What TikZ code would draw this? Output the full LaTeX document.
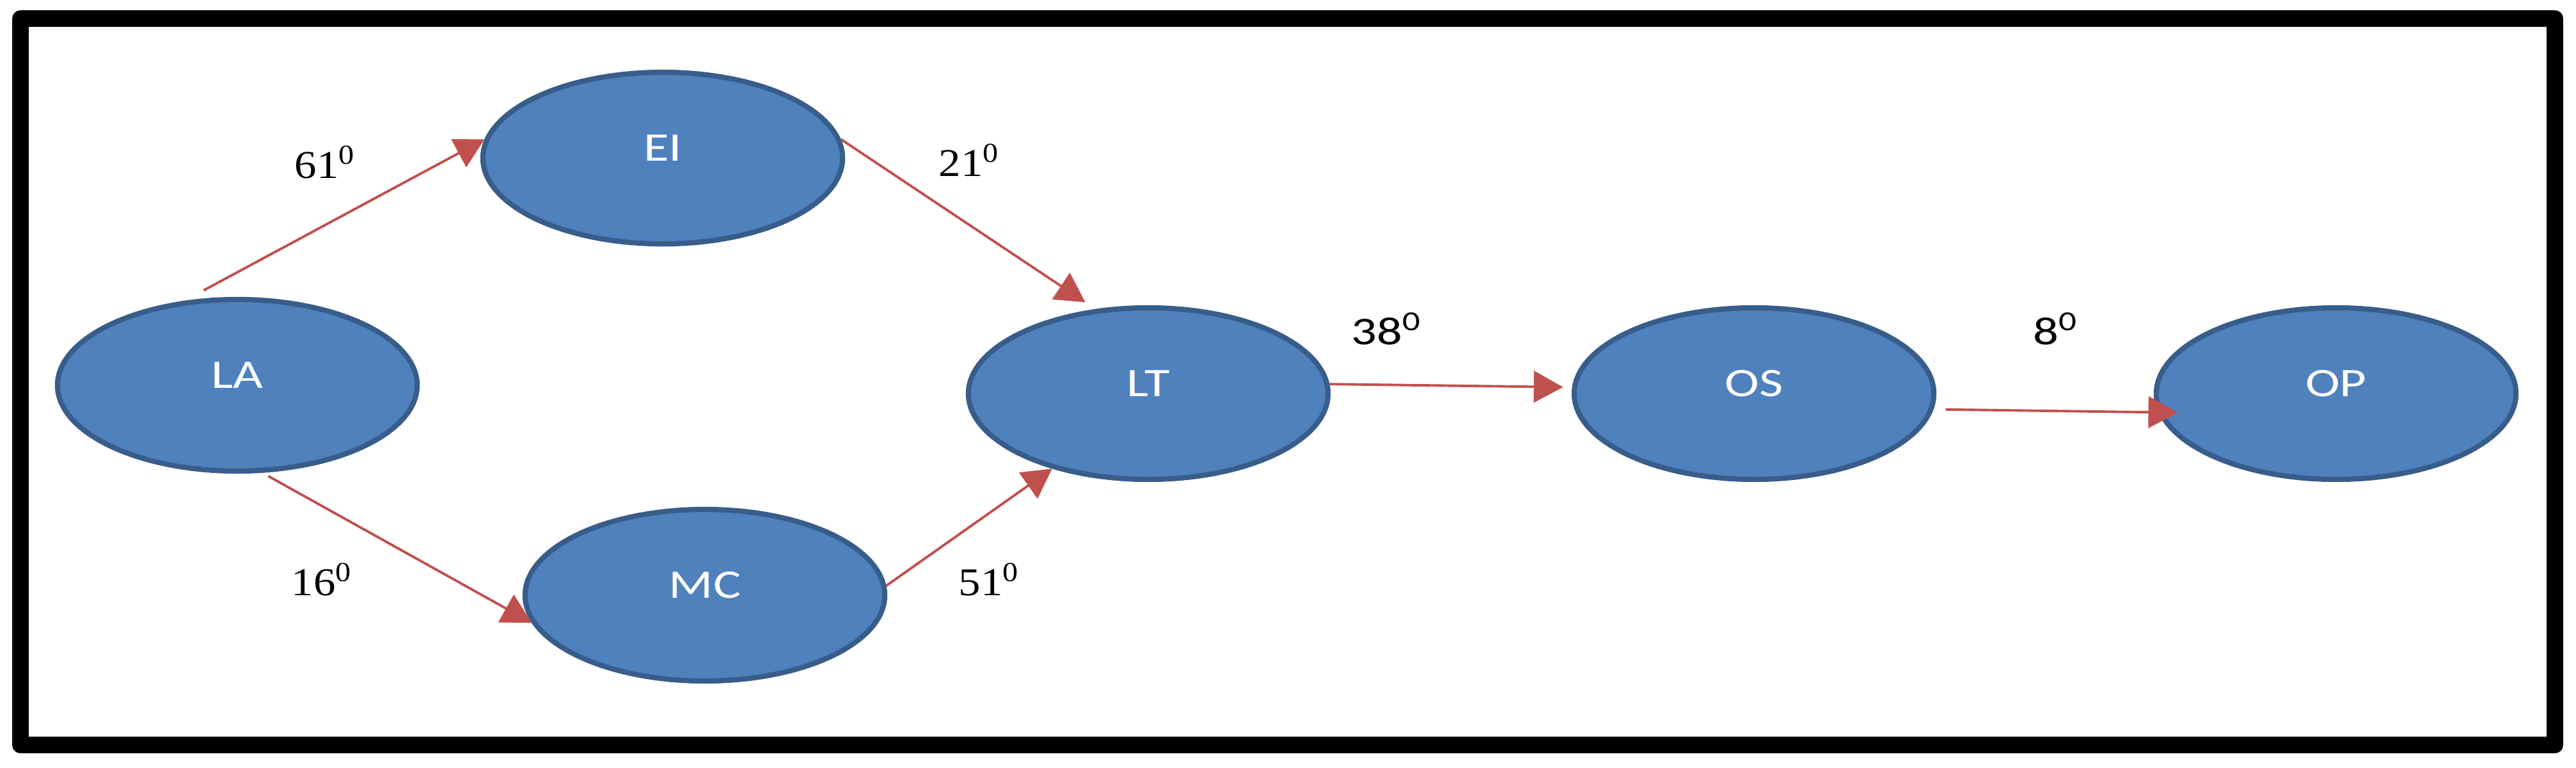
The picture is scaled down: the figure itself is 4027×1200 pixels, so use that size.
\documentclass[tikz,border=0pt]{standalone}
\usepackage{fontspec}
\setmainfont[FakeStretch=1.12]{Liberation Serif}
\newfontfamily\calibri[FakeStretch=1.28]{Carlito}
\usepackage{xcolor}
\usepackage{tikz}
\usetikzlibrary{arrows.meta,shapes.geometric}
\definecolor{nodeblue}{HTML}{4F81BD}
\definecolor{nodeedge}{HTML}{385D8A}
\definecolor{linkred}{HTML}{C0504D}

\begin{document}
\begin{tikzpicture}[x=0.01cm, y=0.01cm]
\tikzstyle{every node}+=[inner sep=0pt]
\tikzstyle{var}=[ellipse, draw=nodeedge, fill=nodeblue, line width=2.3pt, minimum width=5.62cm, minimum height=2.68cm, text=white, text depth=9pt, font=\calibri\fontsize{18}{20}\selectfont]
\tikzstyle{link}=[draw=linkred, line width=1.1pt, -{Triangle[length=13pt,width=14pt]}]
\tikzstyle{weight}=[font=\fontsize{17.5}{20}\selectfont]
\tikzstyle{sweight}=[font=\calibri\fontsize{17.5}{20}\selectfont]
\useasboundingbox (0,0) rectangle (4027,-1200);
\draw [black, line width=7.4pt, line join=round] (32,-29) rectangle (3994,-1164);
\node [var] (LA) at (371,-602) {LA};
\node [var] (EI) at (1036,-247) {EI};
\node [var] (MC) at (1102,-930) {MC};
\node [var] (LT) at (1795,-615) {LT};
\node [var] (OS) at (2742,-615) {OS};
\node [var] (OP) at (3652,-615) {OP};
\draw [link, shorten <=9.7pt] (LA.122) -- (EI.174);
\draw [link, shorten <=3pt] (LA.-74) -- (MC.189);
\draw [link, shorten >=5.4pt] (EI.6) -- (LT.122);
\draw [link] (MC.3) -- (LT.218);
\draw [link, shorten >=4pt] (LT.3) -- (OS.178);
\draw [link, shorten <=5.4pt, shorten >=-8.8pt] (OS.-5) -- (OP.186);
\node [weight] (w61) at (508,-253) {61\textsuperscript{0}};
\node [weight] (w16) at (503,-905) {16\textsuperscript{0}};
\node [weight] (w21) at (1515,-250) {21\textsuperscript{0}};
\node [weight] (w51) at (1546,-905) {51\textsuperscript{0}};
\node [sweight] (w38) at (2167,-514) {38\textsuperscript{0}};
\node [sweight] (w8) at (3213,-514) {8\textsuperscript{0}};
\end{tikzpicture}
\end{document}
